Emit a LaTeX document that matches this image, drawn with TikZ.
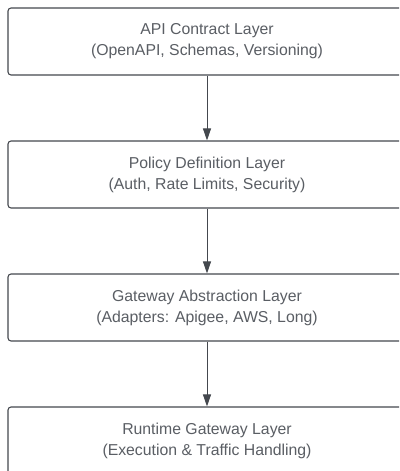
\documentclass[tikz,border=0pt]{standalone}
\usepackage{fontspec}
\setmainfont{Liberation Sans}
\usetikzlibrary{arrows.meta}
\definecolor{txtgray}{HTML}{5A5E64}
\definecolor{linegray}{HTML}{44484E}
\tikzset{layer/.style={draw=linegray,line width=1.1pt,rounded corners=3pt,fill=white,
    minimum width=398pt,minimum height=67pt,align=center,text=txtgray,
    font=\fontsize{15.8}{21}\selectfont}}
\begin{document}
\begin{tikzpicture}[x=1pt,y=-1pt,line join=round,>={Triangle[length=12pt,width=8pt]}]
	\useasboundingbox (0,0) rectangle (399,471);
	\clip (0,0) rectangle (399,471);
	\node[layer] (contract) at (207,41.5) {API Contract Layer\\(OpenAPI, Schemas, Versioning)};
	\node[layer] (policy) at (207,174.5) {Policy Definition Layer\\(Auth, Rate Limits, Security)};
	\node[layer] (abstraction) at (207,307.5) {Gateway Abstraction Layer\\(Adapters: Apigee, AWS, Long)};
	\node[layer] (runtime) at (207,440.5) {Runtime Gateway Layer\\(Execution \& Traffic Handling)};
	\foreach \a/\b in {contract/policy,policy/abstraction,abstraction/runtime}
		{\draw[->,draw=linegray,line width=0.9pt] (\a) -- (\b);}
\end{tikzpicture}
\end{document}
